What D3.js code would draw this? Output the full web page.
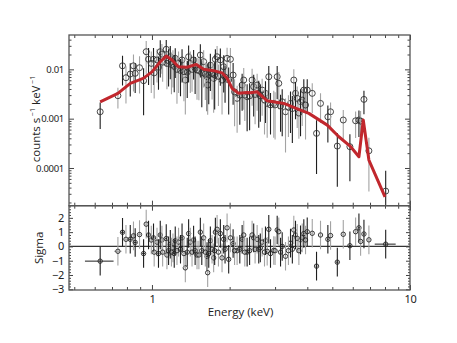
<!DOCTYPE html>
<html><head><meta charset="utf-8">
<script src="https://cdn.jsdelivr.net/npm/d3@7"></script>
<style>
body{margin:0;background:#fff;}
text{font-family:"Open Sans","Noto Sans",sans-serif;fill:#222;}
</style></head>
<body><svg id="c" width="457" height="343"></svg>
<script>
// ---- data ----
const energy = [0.63,0.738,0.769,0.793,0.824,0.848,0.861,0.895,0.928,0.950,
0.970,0.994,1.014,1.046,1.077,1.093,1.136,1.143,1.178,1.206,
1.231,1.268,1.308,1.347,1.387,1.408,1.450,1.495,1.540,1.586,
1.635,1.644,1.684,1.734,1.761,1.788,1.841,1.869,1.897,1.955,
1.983,2.014,2.063,2.138,2.236,2.268,2.338,2.444,2.479,2.556,
2.593,2.673,2.754,2.796,2.836,2.965,3.057,3.101,3.197,3.293,
3.443,3.546,3.600,3.655,3.765,3.822,3.877,3.937,3.997,4.180,
4.343,4.500,4.805,4.922,5.228,5.513,5.849,6.155,6.340,6.435,
6.630,6.930,8.050,
1.02,1.06,1.10,1.16,1.19,1.22,1.25,1.29,1.33,1.37,
1.43,1.47,1.52,1.56,1.61,1.66,1.71,1.75,1.81,1.92,
2.09,2.19,2.29,2.39,2.51,2.63,2.73,2.88,3.00,3.15,
3.38,3.50,3.71];
const rate = [0.00138,0.00292,0.0118,0.00676,0.00803,0.0118,0.0083,0.0108,0.00588,0.0228,
0.0160,0.0132,0.0160,0.0155,0.0228,0.0204,0.0255,0.0132,0.0180,0.0143,
0.0167,0.0132,0.0155,0.00607,0.0180,0.0132,0.0155,0.00968,0.0195,0.0143,
0.00708,0.00481,0.0122,0.00656,0.0160,0.0180,0.0155,0.00607,0.0113,0.0167,
0.00607,0.0160,0.00766,0.00258,0.00481,0.00607,0.00278,0.00607,0.00444,0.00481,
0.00326,0.0038,0.00326,0.00204,0.00708,0.00204,0.00708,0.0052,0.0022,0.00138,
0.00204,0.00607,0.00326,0.00258,0.0022,0.00238,0.0038,0.00189,0.0038,0.00326,
0.000504,0.00204,0.00109,0.00138,0.000278,0.00094,0.00027,0.000906,0.00094,0.000893,
0.00246,0.000223,0.0000340,
0.0085,0.0110,0.0140,0.0150,0.0125,0.0115,0.0100,0.0095,0.0090,0.0088,
0.0100,0.0105,0.0095,0.0085,0.0080,0.0078,0.0082,0.0077,0.0072,0.0070,
0.0035,0.0030,0.0030,0.0029,0.0031,0.0029,0.0024,0.0019,0.0019,0.0018,
0.0017,0.0016,0.0013];
const relErr = [0.55,0.45,0.6,0.7,0.65,0.7,0.6,0.7,0.8,0.65,
0.7,0.75,0.7,0.65,0.7,0.6,0.55,0.7,0.65,0.7,
0.6,0.75,0.65,0.8,0.7,0.75,0.6,0.75,0.65,0.7,
0.8,0.75,0.7,0.8,0.6,0.65,0.7,0.8,0.7,0.65,
0.8,0.7,0.75,0.8,0.7,0.75,0.8,0.7,0.75,0.7,
0.8,0.7,0.75,0.8,0.65,0.8,0.65,0.7,0.8,0.85,
0.75,0.65,0.7,0.75,0.8,0.7,0.65,0.8,0.65,0.6,
0.85,0.6,0.7,0.55,0.85,0.6,0.8,0.55,0.55,0.6,
0.5,0.85,1.6,
0.7,0.65,0.6,0.7,0.75,0.7,0.8,0.7,0.75,0.7,
0.65,0.7,0.75,0.8,0.7,0.75,0.7,0.8,0.75,0.7,
0.8,0.75,0.7,0.8,0.75,0.7,0.8,0.75,0.8,0.7,
0.75,0.8,0.7];
const halfWidth = [0.08,0.025,0.012,0.012,0.012,0.012,0.012,0.012,0.012,0.01,
0.01,0.01,0.01,0.01,0.01,0.01,0.01,0.01,0.01,0.01,
0.01,0.01,0.01,0.01,0.01,0.01,0.01,0.01,0.01,0.01,
0.012,0.012,0.012,0.012,0.012,0.012,0.012,0.012,0.012,0.012,
0.012,0.012,0.012,0.012,0.012,0.012,0.012,0.012,0.012,0.012,
0.012,0.012,0.012,0.012,0.012,0.018,0.018,0.018,0.018,0.018,
0.018,0.018,0.018,0.018,0.018,0.018,0.018,0.018,0.018,0.04,
0.04,0.04,0.04,0.04,0.06,0.06,0.06,0.06,0.06,0.06,
0.06,0.1,0.75,
0.01,0.01,0.01,0.01,0.01,0.01,0.01,0.01,0.01,0.01,
0.01,0.01,0.01,0.01,0.01,0.01,0.01,0.01,0.01,0.01,
0.015,0.015,0.015,0.015,0.015,0.015,0.015,0.015,0.015,0.02,
0.02,0.02,0.02];
const sigma = [-1.03,-0.34,0.99,0.5,0.5,0.74,0.28,0.83,-0.5,1.56,
0.8,0.45,0.6,0.3,0.8,0.45,0.55,-0.6,0.15,-0.1,
0.4,0.3,0.6,-1.5,0.9,0.3,0.45,-0.6,1.0,0.6,
-0.7,-1.84,0.4,-0.8,1.0,1.2,0.9,-0.8,0.5,1.3,
-0.9,0.6,0.2,-0.3,0.5,0.8,-0.4,0.8,0.6,0.5,
-0.2,0.3,0.4,-0.34,1.2,-0.28,1.15,1.03,0.0,-0.69,
0.23,1.15,0.8,0.57,0.46,0.6,0.9,0.45,1.03,0.92,
-1.38,0.8,0.5,0.76,-1.1,0.85,0.05,1.03,1.3,0.35,
0.87,0.46,0.16,
-0.4,-0.5,-0.4,-0.3,-0.4,-0.5,-0.3,-0.2,-0.5,-0.4,
-0.4,-0.3,-0.6,-0.3,-0.4,-0.5,-0.2,-0.3,-0.4,-0.2,
-0.3,-0.2,-0.4,-0.3,-0.2,-0.1,-0.4,-0.5,-0.3,-0.4,
-0.3,-0.2,-0.3];
// model curve
const modelE = [0.63,0.738,0.824,0.925,1.0,1.077,1.136,1.196,1.265,1.367,1.486,1.586,1.734,1.869,1.955,2.045,2.169,2.338,2.408,2.556,2.70,2.80,2.878,3.243,3.765,4.055,4.78,5.30,5.89,6.34,6.59,6.93,8.0];
const modelRate = [0.0022,0.00326,0.0052,0.00656,0.0089,0.01426,0.0186,0.01545,0.0113,0.011,0.0126,0.010,0.0094,0.0085,0.0066,0.0041,0.00326,0.0034,0.00335,0.00351,0.0027,0.0023,0.00225,0.00204,0.00149,0.00128,0.00074,0.00043,0.00027,0.000169,0.00094,0.000145,0.000026];
const xTicks = [1,10];
const yTopTicks = [0.0001,0.001,0.01];
const sigmaTicks = [-3,-2,-1,0,1,2];

// ---- layout ----
const L=69,R=410,T=35,M=205.7,B=290;
const svg = d3.select("#c");
const x = d3.scaleLog().domain([0.477,10]).range([L,R]);
const yT = d3.scaleLog().domain([1.72e-5,0.0497]).range([M,T]);
const yB = d3.scaleLinear().domain([-3.05,2.85]).range([B,M]);

const pts = energy.map((e,i)=>({e,v:rate[i],err:relErr[i]*rate[i],hw:halfWidth[i],s:sigma[i],i}));

const defs = svg.append("defs");
defs.append("clipPath").attr("id","cpT").append("rect").attr("x",L).attr("y",T).attr("width",R-L).attr("height",M-T);
defs.append("clipPath").attr("id","cpB").append("rect").attr("x",L).attr("y",M).attr("width",R-L).attr("height",B-M);

const col = i => i%2 ? "#a3a3a3" : "#1e1e1e";
const yMin = yT.domain()[0];

// top panel data
const gT = svg.append("g").attr("clip-path","url(#cpT)");
const gp = gT.selectAll("g.p").data(pts).join("g");
gp.append("line").attr("x1",d=>x(d.e)).attr("x2",d=>x(d.e))
  .attr("y1",d=>yT(d.v+d.err)).attr("y2",d=>yT(Math.max(d.v-d.err,yMin*0.5)))
  .attr("stroke",d=>col(d.i)).attr("stroke-width",1.1);
gp.append("circle").attr("cx",d=>x(d.e)).attr("cy",d=>yT(d.v)).attr("r",3)
  .attr("fill","none").attr("stroke","#333").attr("stroke-width",0.9);

// model
gT.append("path").datum(modelE.map((e,i)=>[e,modelRate[i]]))
  .attr("d",d3.line().x(d=>x(d[0])).y(d=>yT(d[1])))
  .attr("fill","none").attr("stroke","#c1272d").attr("stroke-width",3).attr("stroke-linejoin","round");

// bottom panel
const gB = svg.append("g").attr("clip-path","url(#cpB)");
gB.append("line").attr("x1",L).attr("x2",R).attr("y1",yB(0)).attr("y2",yB(0)).attr("stroke","#333").attr("stroke-width",1.1);
const gq = gB.selectAll("g.q").data(pts).join("g");
gq.append("line").attr("x1",d=>x(d.e)).attr("x2",d=>x(d.e))
  .attr("y1",d=>yB(d.s+1)).attr("y2",d=>yB(d.s-1))
  .attr("stroke",d=>col(d.i)).attr("stroke-width",1.1);
gq.append("line").attr("x1",d=>x(d.e-d.hw)).attr("x2",d=>x(d.e+d.hw))
  .attr("y1",d=>yB(d.s)).attr("y2",d=>yB(d.s))
  .attr("stroke",d=>col(d.i)).attr("stroke-width",1);
gq.append("circle").attr("cx",d=>x(d.e)).attr("cy",d=>yB(d.s)).attr("r",2.2)
  .attr("fill","none").attr("stroke","#222").attr("stroke-width",0.9);

// ---- axes ----
const minorX = [];
[0.1,1].forEach(d=>{for(let k=2;k<=9;k++){const v=k*d; if(v>=0.477&&v<=10) minorX.push(v);}});
const minorYT = [];
[1e-5,1e-4,1e-3,1e-2].forEach(d=>{for(let k=2;k<=9;k++){const v=k*d; if(v>=1.72e-5&&v<=0.0497) minorYT.push(v);}});
const minorS = d3.range(-30,29,2).map(v=>v/10).filter(v=>!Number.isInteger(v));

function ax(gen, tr, vals, size, fmt, pad){
  const g = svg.append("g").attr("transform",tr)
    .call(gen.tickValues(vals).tickSize(size).tickPadding(pad||4).tickFormat(fmt||(()=>"")));
  g.select(".domain").remove();
  g.selectAll("line").attr("stroke","#444").attr("stroke-width",1);
  g.selectAll("text").style("font-size","9.5px").attr("fill","#222")
    .style("font-family",'"Noto Sans","Open Sans",sans-serif').style("letter-spacing","-0.3px");
  return g;
}
const fmtX = d=>String(d);
const fmtY = d=>({0.0001:"0.0001",0.001:"0.001",0.01:"0.01"})[d];
const fmtS = d=> d<0 ? "\u2212"+Math.abs(d) : String(d);

// top panel: top edge, bottom edge (inward)
ax(d3.axisTop(x), `translate(0,${T})`, xTicks, -5);
ax(d3.axisTop(x), `translate(0,${T})`, minorX, -3);
ax(d3.axisBottom(x), `translate(0,${M})`, xTicks, -5);
ax(d3.axisBottom(x), `translate(0,${M})`, minorX, -3);
// bottom panel top & bottom
ax(d3.axisTop(x), `translate(0,${M})`, xTicks, -5);
ax(d3.axisTop(x), `translate(0,${M})`, minorX, -3);
ax(d3.axisBottom(x), `translate(0,${B})`, xTicks, -5, fmtX, 5).selectAll("text").style("font-size","11px");
ax(d3.axisBottom(x), `translate(0,${B})`, minorX, -3);
// y top
ax(d3.axisLeft(yT), `translate(${L},0)`, yTopTicks, -5, fmtY, 5);
ax(d3.axisLeft(yT), `translate(${L},0)`, minorYT, -2.5);
ax(d3.axisRight(yT), `translate(${R},0)`, yTopTicks, -5);
ax(d3.axisRight(yT), `translate(${R},0)`, minorYT, -2.5);
// y bottom
ax(d3.axisLeft(yB), `translate(${L},0)`, sigmaTicks, -4, fmtS, 5).selectAll("text").style("font-size","11px");
ax(d3.axisLeft(yB), `translate(${L},0)`, minorS, -2);
ax(d3.axisRight(yB), `translate(${R},0)`, sigmaTicks, -4);
ax(d3.axisRight(yB), `translate(${R},0)`, minorS, -2);

// frames
svg.append("rect").attr("x",L).attr("y",T).attr("width",R-L).attr("height",M-T).attr("fill","none").attr("stroke","#555").attr("stroke-width",1.3);
svg.append("rect").attr("x",L).attr("y",M).attr("width",R-L).attr("height",B-M).attr("fill","none").attr("stroke","#555").attr("stroke-width",1.3);

// titles
svg.append("text").attr("x",(L+R)/2+1).attr("y",316).attr("text-anchor","middle").style("font-size","11.5px").text("Energy (keV)");
const yl = svg.append("text").attr("transform","translate(40,119) rotate(-90)").attr("text-anchor","middle").style("font-size","11.5px");
yl.append("tspan").text("counts s");
yl.append("tspan").attr("dy",-5).style("font-size","7px").text(" \u22121");
yl.append("tspan").attr("dy",5).text(" keV");
yl.append("tspan").attr("dy",-5).style("font-size","7px").text(" \u22121");
svg.append("text").attr("transform",`translate(43,${yB(-0.1)}) rotate(-90)`).attr("text-anchor","middle").style("font-size","11.5px").text("Sigma");
</script></body></html>
